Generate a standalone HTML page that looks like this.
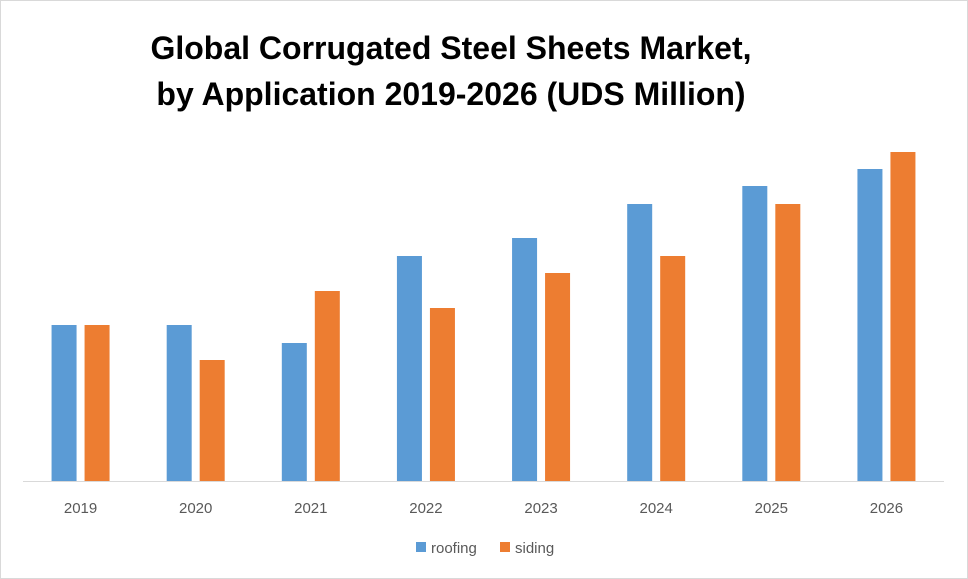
<!DOCTYPE html>
<html><head><meta charset="utf-8"><style>
body{margin:0;background:#fff;font-family:"Liberation Sans",sans-serif}
#wrap{position:relative;width:966px;height:577px;border:1px solid #d9d9d9;background:#fff}
#title{position:absolute;left:0;top:24px;width:900px;text-align:center;font-family:"Liberation Sans",sans-serif;font-weight:bold;font-size:32px;line-height:46px;color:#000}
svg{position:absolute;left:0;top:0}
</style></head><body>
<div id="wrap">
<div id="title">Global Corrugated Steel Sheets Market,<br>by Application 2019-2026 (UDS Million)</div>
<svg id="chart" width="966" height="577"></svg>
</div>
<script>
const categories=["2019","2020","2021","2022","2023","2024","2025","2026"];
const roofing=[156,156,138,225,243,277,295,312];
const siding=[156,121,190,173,208,225,277,329];
const ns="http://www.w3.org/2000/svg";
const svg=document.getElementById('chart');
const baseY=480, x0=22, x1=943;
const bandW=(x1-x0)/categories.length;
function yScale(v){return baseY-v;}
function xCenter(i){return x0+bandW*(i+0.5);}
function mk(tag,attrs){const e=document.createElementNS(ns,tag);for(const k in attrs)e.setAttribute(k,attrs[k]);svg.appendChild(e);return e;}
categories.forEach((c,i)=>{
  const cx=xCenter(i);
  const r=mk('rect',{x:cx-29,y:yScale(roofing[i]),width:25,height:baseY-yScale(roofing[i]),fill:'#5b9bd5'});
  
  
  const s=mk('rect',{x:cx+4,y:yScale(siding[i]),width:25,height:baseY-yScale(siding[i]),fill:'#ed7d31'});
  
  
  const t=mk('text',{x:cx,y:512,'text-anchor':'middle','font-size':'15','fill':'#595959','font-family':'Liberation Sans, sans-serif'});
  t.textContent=c;
  
  
});
const ax=mk('line',{x1:x0,y1:baseY+0.5,x2:x1,y2:baseY+0.5,stroke:'#d9d9d9','stroke-width':1});


const l1=mk('rect',{x:415,y:541,width:10,height:10,fill:'#5b9bd5'});


const lt1=mk('text',{x:430,y:552,'font-size':'15',fill:'#595959','font-family':'Liberation Sans, sans-serif'});
lt1.textContent='roofing';


const l2=mk('rect',{x:499,y:541,width:10,height:10,fill:'#ed7d31'});


const lt2=mk('text',{x:514,y:552,'font-size':'15',fill:'#595959','font-family':'Liberation Sans, sans-serif'});
lt2.textContent='siding';


</script>
</body></html>
